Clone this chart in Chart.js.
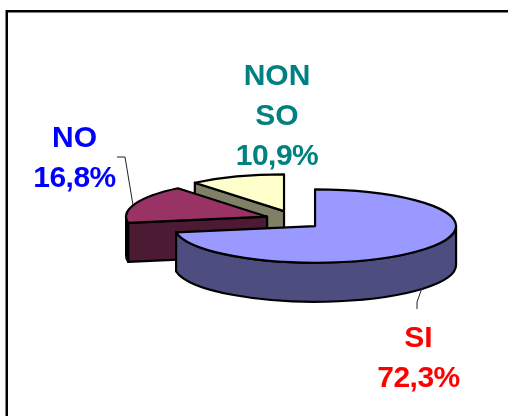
<!DOCTYPE html>
<html>
<head>
<meta charset="utf-8">
<style>html,body{margin:0;padding:0;background:#fff;overflow:hidden}canvas{display:block}</style>
<script src="https://cdn.jsdelivr.net/npm/chart.js@4"></script>
</head>
<body>
<canvas id="c" width="508" height="416"></canvas>
<script>
const categories = ["SI", "NO", "NON SO"];
const shareValues = [72.3, 16.8, 10.9];
const topColors = ["#9999FF", "#993366", "#FFFFCC"];
const sideColors = ["#4D4D80", "#4D1A33", "#808066"];
const textColors = ["#FF0000", "#0000FF", "#008080"];
const labelCenterX = [418.5, 74.5, 277];
const labelBaselineY = [[347, 387], [147, 187], [85, 125, 165]];
const leaderLines = [
  [[422, 288], [417, 302], [417, 309]],
  [[117, 157], [125, 157], [133, 205]],
  []
];

const tilt = 0.26, depth = 39, explodeX = 28.2, explodeY = 9.45;

const pie3d = {
  id: "pie3d",
  beforeDraw(chart) {
    const ctx = chart.ctx;
    ctx.save();
    ctx.fillStyle = "#fff";
    ctx.fillRect(0, 0, chart.width, chart.height);
    ctx.strokeStyle = "#000";
    ctx.lineWidth = 2.5;
    ctx.strokeRect(6.75, 11.25, 520, 420);
    ctx.restore();
  },
  beforeDatasetDraw(chart, args) {
    const ctx = chart.ctx;
    const arcs = args.meta.data;
    const order = [2, 1, 0];
    order.forEach(i => {
      const a = arcs[i];
      const r = a.outerRadius, rY = r * tilt;
      const mid = (a.startAngle + a.endAngle) / 2;
      const cx = a.x + Math.cos(mid) * explodeX;
      const cy = a.y + Math.sin(mid) * explodeY;
      const px = t => cx + Math.cos(t) * r;
      const py = t => cy + Math.sin(t) * rY;
      ctx.save();
      ctx.lineWidth = 2.2;
      ctx.strokeStyle = "#000";
      ctx.lineJoin = "round";
      ctx.fillStyle = sideColors[i];
      const face = t => {
        ctx.beginPath();
        ctx.moveTo(cx, cy);
        ctx.lineTo(px(t), py(t));
        ctx.lineTo(px(t), py(t) + depth);
        ctx.lineTo(cx, cy + depth);
        ctx.closePath();
        ctx.fill();
        ctx.stroke();
      };
      if (Math.cos(a.startAngle) < -1e-6) face(a.startAngle);
      if (Math.cos(a.endAngle) > 1e-6) face(a.endAngle);
      const from = Math.max(a.startAngle, 0), to = Math.min(a.endAngle, Math.PI);
      if (to > from) {
        ctx.beginPath();
        ctx.ellipse(cx, cy, r, rY, 0, from, to);
        ctx.lineTo(px(to), py(to) + depth);
        ctx.ellipse(cx, cy + depth, r, rY, 0, to, from, true);
        ctx.closePath();
        ctx.fill();
        ctx.stroke();
      }
      ctx.save();
      ctx.translate(cx, cy);
      ctx.scale(1, tilt);
      ctx.translate(-a.x, -a.y);
      a.draw(ctx);
      ctx.restore();
      ctx.beginPath();
      ctx.moveTo(cx, cy);
      ctx.ellipse(cx, cy, r, rY, 0, a.startAngle, a.endAngle);
      ctx.closePath();
      ctx.stroke();
      ctx.restore();
    });
    return false;
  },
  afterDraw(chart) {
    const ctx = chart.ctx;
    ctx.save();
    ctx.strokeStyle = "#222";
    ctx.lineWidth = 1;
    leaderLines.forEach(line => {
      if (!line.length) return;
      ctx.beginPath();
      line.forEach((p, j) => j ? ctx.lineTo(p[0], p[1]) : ctx.moveTo(p[0], p[1]));
      ctx.stroke();
    });
    ctx.font = "bold 30px 'Liberation Sans', Arial, sans-serif";
    ctx.textAlign = "center";
    ctx.textBaseline = "alphabetic";
    categories.forEach((name, i) => {
      const words = name.split(" ");
      const lines = words.concat(shareValues[i].toFixed(1).replace(".", ",") + "%");
      ctx.fillStyle = textColors[i];
      lines.forEach((t, j) => {
        ctx.letterSpacing = j === lines.length - 1 ? "-0.5px" : "0px";
        ctx.fillText(t, labelCenterX[i], labelBaselineY[i][j]);
      });
    });
    ctx.restore();
  }
};

new Chart(document.getElementById("c"), {
  type: "pie",
  data: {
    labels: categories,
    datasets: [{
      data: shareValues,
      backgroundColor: topColors,
      borderWidth: 0,
      radius: 141,
      hoverOffset: 0
    }]
  },
  options: {
    responsive: false,
    animation: false,
    layout: { padding: { left: 79, top: 24, right: 0, bottom: 0 } },
    plugins: { legend: { display: false }, tooltip: { enabled: false } }
  },
  plugins: [pie3d]
});
</script>
</body>
</html>
